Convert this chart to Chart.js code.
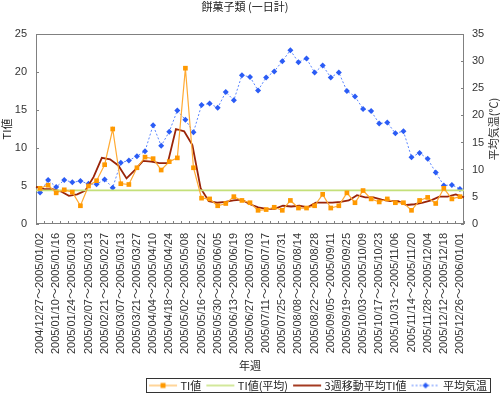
<!DOCTYPE html>
<html>
<head>
<meta charset="utf-8">
<script src="https://cdn.jsdelivr.net/npm/chart.js@4"></script>
<style>
  body { margin: 0; background: #fff; }
  #wrap { width: 500px; height: 396px; }
</style>
</head>
<body>
<div id="wrap"><canvas id="chartCanvas" width="500" height="396"></canvas></div>
<script>
const weekLabels = [
    "2004/12/27〜2005/01/02", "2005/01/03〜2005/01/09", "2005/01/10〜2005/01/16", "2005/01/17〜2005/01/23",
    "2005/01/24〜2005/01/30", "2005/01/31〜2005/02/06", "2005/02/07〜2005/02/13", "2005/02/14〜2005/02/20",
    "2005/02/21〜2005/02/27", "2005/02/28〜2005/03/06", "2005/03/07〜2005/03/13", "2005/03/14〜2005/03/20",
    "2005/03/21〜2005/03/27", "2005/03/28〜2005/04/03", "2005/04/04〜2005/04/10", "2005/04/11〜2005/04/17",
    "2005/04/18〜2005/04/24", "2005/04/25〜2005/05/01", "2005/05/02〜2005/05/08", "2005/05/09〜2005/05/15",
    "2005/05/16〜2005/05/22", "2005/05/23〜2005/05/29", "2005/05/30〜2005/06/05", "2005/06/06〜2005/06/12",
    "2005/06/13〜2005/06/19", "2005/06/20〜2005/06/26", "2005/06/27〜2005/07/03", "2005/07/04〜2005/07/10",
    "2005/07/11〜2005/07/17", "2005/07/18〜2005/07/24", "2005/07/25〜2005/07/31", "2005/08/01〜2005/08/07",
    "2005/08/08〜2005/08/14", "2005/08/15〜2005/08/21", "2005/08/22〜2005/08/28", "2005/08/29〜2005/09/04",
    "2005/09/05〜2005/09/11", "2005/09/12〜2005/09/18", "2005/09/19〜2005/09/25", "2005/09/26〜2005/10/02",
    "2005/10/03〜2005/10/09", "2005/10/10〜2005/10/16", "2005/10/17〜2005/10/23", "2005/10/24〜2005/10/30",
    "2005/10/31〜2005/11/06", "2005/11/07〜2005/11/13", "2005/11/14〜2005/11/20", "2005/11/21〜2005/11/27",
    "2005/11/28〜2005/12/04", "2005/12/05〜2005/12/11", "2005/12/12〜2005/12/18", "2005/12/19〜2005/12/25",
    "2005/12/26〜2006/01/01"
];

// TI値 (left axis)
const tiValues = [
    4.7, 5.1, 4.1, 4.5, 4.2, 2.4, 5.0, 5.7, 7.8, 12.5,
    5.3, 5.2, 7.4, 8.8, 8.6, 7.1, 8.2, 8.7, 20.5, 7.4,
    3.4, 3.3, 2.4, 2.7, 3.6, 3.1, 2.8, 1.8, 1.9, 2.2,
    1.8, 3.1, 2.1, 2.1, 2.4, 3.9, 2.1, 2.4, 4.1, 2.8,
    4.4, 3.3, 2.9, 3.3, 2.8, 2.8, 1.8, 3.1, 3.5, 2.7,
    4.7, 3.3, 3.6
];

// 3週移動平均TI値
const tiMovingAvg = [
    4.9, 4.6, 4.6, 4.3, 3.7, 3.9, 4.4, 6.2, 8.7, 8.5,
    7.7, 6.0, 7.1, 8.3, 8.2, 8.0, 8.0, 12.5, 12.2, 10.4,
    4.7, 3.0, 2.8, 2.9, 3.1, 3.2, 2.6, 2.2, 2.0, 2.0,
    2.4, 2.3, 2.4, 2.2, 2.8, 2.8, 2.8, 2.9, 3.1, 3.8,
    3.5, 3.5, 3.2, 3.0, 3.0, 2.5, 2.6, 2.8, 3.1, 3.6,
    3.6, 3.9, 3.5
];

// TI値(平均)
const tiAverage = 4.43;

// 平均気温 (right axis, ℃)
const tempValues = [
    5.8, 8.1, 6.8, 8.1, 7.7, 7.9, 7.4, 7.3, 8.2, 6.7,
    11.3, 11.7, 12.5, 13.4, 18.2, 14.4, 17.0, 20.9, 19.2, 16.9,
    21.9, 22.2, 21.4, 24.3, 22.8, 27.4, 27.1, 24.6, 27.0, 28.1,
    30.0, 32.0, 29.8, 30.5, 27.9, 29.2, 27.0, 27.9, 24.5, 23.5,
    21.2, 20.8, 18.5, 18.7, 16.7, 17.1, 12.3, 13.1, 12.0, 9.5,
    7.1, 7.2, 6.45
];

const leftTicks = [0, 5, 10, 15, 20, 25];
const rightTicks = [0, 5, 10, 15, 20, 25, 30, 35];

const JP = '"Noto Sans CJK JP", sans-serif';
const NUM = '"Liberation Sans", "Noto Sans CJK JP", sans-serif';

// small line+marker pictures for the legend
function legendSample(color, width, dash, marker, markerColor) {
    const c = document.createElement("canvas");
    c.width = 34;
    c.height = 10;
    const g = c.getContext("2d");
    g.strokeStyle = color;
    g.lineWidth = width;
    g.setLineDash(dash);
    g.beginPath();
    g.moveTo(5, 5);
    g.lineTo(33, 5);
    g.stroke();
    g.fillStyle = markerColor;
    if (marker === "rect") g.fillRect(16.5, 2.5, 5, 5);
    if (marker === "diamond") {
        g.beginPath();
        g.moveTo(19, 2); g.lineTo(22, 5); g.lineTo(19, 8); g.lineTo(16, 5);
        g.closePath();
        g.fill();
    }
    return c;
}

const legendPics = [
    legendSample("#ffaa33", 1, [], "rect", "#ff9900"),
    legendSample("#c4e07a", 1.5, [], null, null),
    legendSample("#9a2408", 1.8, [], null, null),
    legendSample("#5b86ff", 1, [2, 2], "diamond", "#2b5cf5")
];

const framePlugin = {
    id: "frame",
    beforeDatasetsDraw(chart) {
        const { ctx, chartArea: a } = chart;
        ctx.save();
        ctx.strokeStyle = "#808080";
        ctx.lineWidth = 1;
        ctx.strokeRect(Math.round(a.left) + 0.5, Math.round(a.top) + 0.5,
            Math.round(a.width) - 1, Math.round(a.height) - 1);
        ctx.restore();
    },
    afterDraw(chart) {
        const { ctx, chartArea: a } = chart;
        ctx.save();
        ctx.font = "11px " + JP;
        ctx.fillStyle = "#333";
        ctx.textAlign = "center";
        ctx.textBaseline = "middle";
        ctx.translate(494, (a.top + a.bottom) / 2);
        ctx.rotate(-Math.PI / 2);
        ctx.fillText("平均気温(℃)", 0, 0);
        ctx.restore();

        const boxes = chart.legend.legendHitBoxes;
        if (!boxes || !boxes.length) return;
        const left = Math.min(...boxes.map(b => b.left));
        const right = Math.max(...boxes.map(b => b.left + b.width));
        const top = Math.min(...boxes.map(b => b.top));
        const bottom = Math.max(...boxes.map(b => b.top + b.height));
        ctx.save();
        ctx.strokeStyle = "#333";
        ctx.lineWidth = 1;
        ctx.strokeRect(Math.round(left) - 0.5, Math.round(top) - 1.5,
            Math.round(right - left) + 4, Math.round(bottom - top) + 3);
        ctx.restore();
    }
};

new Chart(document.getElementById("chartCanvas"), {
    type: "line",
    data: {
        labels: weekLabels,
        datasets: [{
            label: "TI値",
            data: tiValues,
            yAxisID: "y",
            borderColor: "#ffaa33",
            backgroundColor: "#ff9900",
            borderWidth: 1.2,
            pointStyle: "rect",
            pointRadius: 3.3,
            pointBorderWidth: 0,
            pointBackgroundColor: "#ff9900",
            tension: 0
        }, {
            label: "TI値(平均)",
            data: weekLabels.map(() => tiAverage),
            xAxisID: "x2",
            yAxisID: "y",
            borderColor: "#c4e07a",
            borderWidth: 1.6,
            pointRadius: 0
        }, {
            label: "3週移動平均TI値",
            data: tiMovingAvg,
            xAxisID: "x2",
            yAxisID: "y",
            borderColor: "#9a2408",
            borderWidth: 1.8,
            pointRadius: 0,
            tension: 0
        }, {
            label: "平均気温",
            data: tempValues,
            yAxisID: "y2",
            borderColor: "#5b86ff",
            backgroundColor: "#2b5cf5",
            borderWidth: 1,
            borderDash: [2, 2],
            pointStyle: "rectRot",
            pointRadius: 3,
            pointBorderWidth: 0,
            pointBackgroundColor: "#2b5cf5",
            tension: 0
        }]
    },
    options: {
        responsive: false,
        animation: false,
        devicePixelRatio: 1,
        layout: { padding: { left: 0, right: 10, top: 0, bottom: 0 } },
        plugins: {
            tooltip: { enabled: false },
            title: {
                display: true,
                text: "餅菓子類 (一日計)",
                color: "#222",
                font: { family: JP, size: 11, weight: "normal" },
                padding: { top: 0, bottom: 20.8 }
            },
            legend: {
                position: "bottom",
                align: "end",
                maxHeight: 19,
                labels: {
                    usePointStyle: true,
                    pointStyleWidth: 28,
                    padding: 3,
                    color: "#222",
                    font: { family: JP, size: 11 },
                    generateLabels: chart => chart.data.datasets.map((ds, i) => ({
                        text: ds.label,
                        pointStyle: legendPics[i],
                        datasetIndex: i,
                        hidden: false,
                        lineWidth: 0,
                        fontColor: "#222"
                    }))
                }
            }
        },
        scales: {
            x: {
                type: "category",
                offset: true,
                afterFit: s => { s.height = 153; },
                border: { display: false },
                grid: { display: true, drawOnChartArea: false, drawTicks: true, tickLength: -3, offset: true, color: "#808080" },
                ticks: {
                    autoSkip: false,
                    minRotation: 90,
                    maxRotation: 90,
                    padding: 12,
                    color: "#333",
                    font: { family: NUM, size: 11 },
                    callback: function (value, index) {
                        return index % 2 === 0 ? this.getLabelForValue(value) : "";
                    }
                },
                title: {
                    display: true,
                    text: "年週",
                    color: "#222",
                    font: { family: JP, size: 11 },
                    padding: { top: 0, bottom: 5 }
                }
            },
            x2: {
                type: "category",
                labels: weekLabels,
                offset: false,
                display: false
            },
            y: {
                position: "left",
                min: 0,
                max: 25,
                afterFit: s => { s.width = 36; },
                afterBuildTicks: s => { s.ticks = leftTicks.map(v => ({ value: v })); },
                border: { display: false },
                grid: { display: true, drawOnChartArea: false, drawTicks: true, tickLength: -3, color: "#808080" },
                ticks: { padding: 12, color: "#333", font: { family: NUM, size: 11 } },
                title: {
                    display: true,
                    text: "TI値",
                    color: "#222",
                    font: { family: JP, size: 11 },
                    padding: 0
                }
            },
            y2: {
                position: "right",
                min: 0,
                max: 35,
                afterFit: s => { s.width = 26; },
                afterBuildTicks: s => { s.ticks = rightTicks.map(v => ({ value: v })); },
                border: { display: false },
                grid: { display: true, drawOnChartArea: false, drawTicks: true, tickLength: -3, color: "#808080" },
                ticks: { padding: 11, color: "#333", font: { family: NUM, size: 11 } }
            }
        }
    },
    plugins: [framePlugin]
});
</script>
</body>
</html>
